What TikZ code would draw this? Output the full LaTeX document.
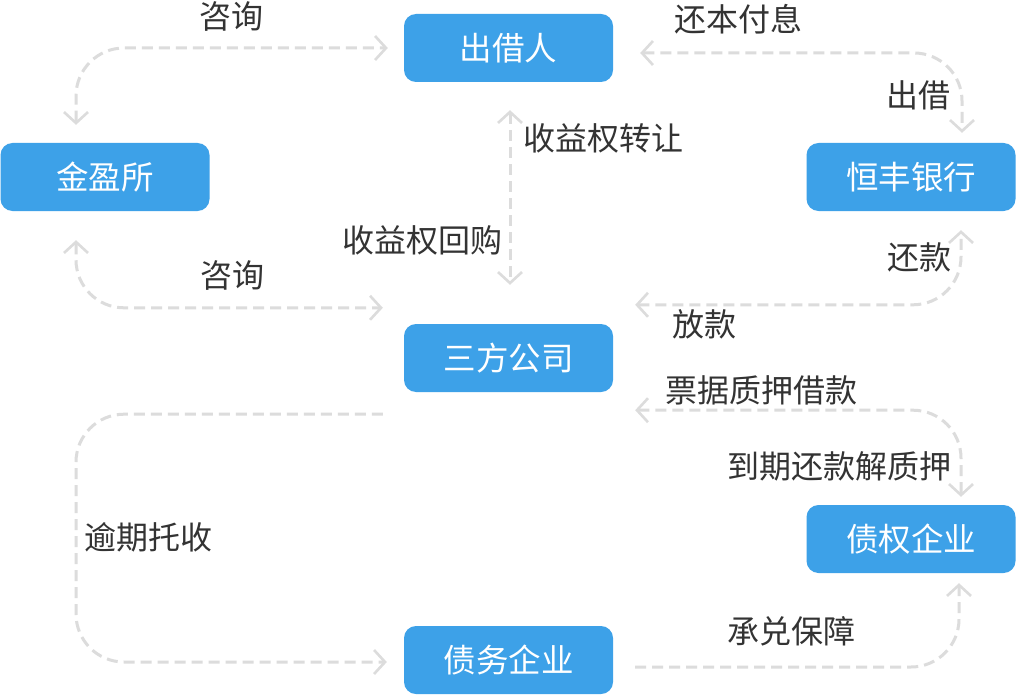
\documentclass[tikz,border=0pt]{standalone}
\usepackage{fontspec}
\newfontfamily\cjk{Noto Sans CJK SC}
\usetikzlibrary{arrows.meta,calc}
\definecolor{nodeblue}{HTML}{3DA1E8}
\definecolor{linegray}{HTML}{DCDCDC}
\definecolor{txtgray}{HTML}{333333}
\tikzset{barb/.tip={Straight Barb[length=11pt,width=24pt,line width=2.6pt]}}
\begin{document}
\begin{tikzpicture}[x=1pt,y=-1pt,
 box/.style={rectangle,rounded corners=12pt,fill=nodeblue,text=white,minimum width=209pt,minimum height=68pt,inner sep=0pt,font=\cjk\fontsize{32.5}{33}\selectfont},
 lbl/.style={text=txtgray,inner sep=0pt,font=\cjk\fontsize{32}{33}\selectfont},
 conn/.style={draw=linegray,line width=3pt,dash pattern=on 11pt off 6pt,rounded corners=48pt}
]
\fill[white] (0,0) rectangle (1016,695);
\useasboundingbox (0,0) rectangle (1016,695);

\node[box] (cjr) at (508.5,48) {出借人};
\node[box] (jys) at (105,177) {金盈所};
\node[box] (hf) at (911,177) {恒丰银行};
\node[box] (sf) at (508.5,358) {三方公司};
\node[box] (zq) at (911,539) {债权企业};
\node[box] (zw) at (508.5,660) {债务企业};

\coordinate (p1a) at ($(jys.north)+(-29,-18)$);
\coordinate (p1b) at ($(cjr.west)+(-16,0)$);
\coordinate (p2a) at ($(cjr.east)+(27,5)$);
\coordinate (p2b) at ($(hf.north)+(51,-10)$);
\coordinate (p3a) at ($(sf.north east)+(22,-19)$);
\coordinate (p3b) at ($(hf.south)+(50,19)$);
\coordinate (p4a) at ($(sf.south east)+(22,18)$);
\coordinate (p4b) at ($(zq.north)+(50,-8)$);
\coordinate (p5a) at ($(zw.east)+(22,7)$);
\coordinate (p5b) at ($(zq.south)+(48,10)$);
\coordinate (p6a) at ($(sf.south west)+(-21,22)$);
\coordinate (p6b) at ($(zw.west)+(-17,2)$);
\coordinate (p7a) at ($(jys.south)+(-29,29)$);
\coordinate (p7b) at ($(sf.north west)+(-21,-16)$);
\coordinate (p8a) at ($(cjr.south)+(1.5,28)$);
\coordinate (p8b) at ($(sf.north)+(1.5,-39)$);

\draw[conn,barb-barb] (p1a) |- (p1b);
\draw[conn,barb-barb] (p2a) -| (p2b);
\draw[conn,barb-barb] (p3a) -| (p3b);
\draw[conn,barb-barb] (p4a) -| (p4b);
\draw[conn,-barb] (p5a) -| (p5b);
\draw[conn,-barb] (p6a) -- (p6a -| p1a) -- (p6b -| p1a) -- (p6b);
\draw[conn,barb-barb] (p7a) |- (p7b);
\draw[conn,barb-barb] (p8a) -- (p8b);

\node[lbl] (l1) at (231,16) {咨询};
\node[lbl] (l2) at (738,19) {还本付息};
\node[lbl] (l3) at (918,95) {出借};
\node[lbl] (l4) at (603.5,138) {收益权转让};
\node[lbl] (l5) at (422,240) {收益权回购};
\node[lbl] (l6) at (232,275) {咨询};
\node[lbl] (l7) at (919,257) {还款};
\node[lbl] (l8) at (704,324) {放款};
\node[lbl] (l9) at (761,390) {票据质押借款};
\node[lbl] (l10) at (839,466) {到期还款解质押};
\node[lbl] (l11) at (148,537) {逾期托收};
\node[lbl] (l12) at (791,631) {承兑保障};
\end{tikzpicture}
\end{document}
